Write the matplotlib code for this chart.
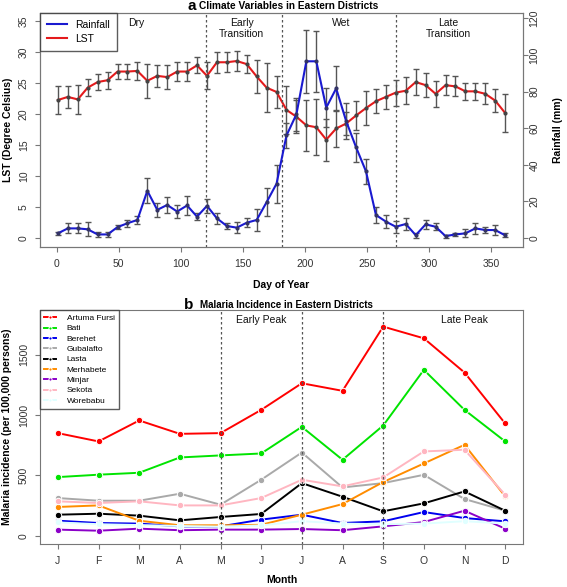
import matplotlib
matplotlib.use('Agg')
import matplotlib.pyplot as plt

plt.rcParams['font.family'] = ['Liberation Sans', 'DejaVu Sans']

# ---- panel a: climate variables (8-day composites) ----
days = list(range(1, 362, 8))
lst = [22.3, 22.8, 22.4, 24.3, 25.2, 25.5, 26.9, 26.9, 27.0, 25.4, 26.2, 26.0,
       26.9, 26.9, 27.9, 26.2, 28.4, 28.4, 28.6, 28.1, 26.1, 24.3, 23.6, 20.7,
       19.6, 18.2, 17.9, 15.9, 17.7, 18.5, 19.8, 21.0, 22.1, 22.8, 23.5, 23.8,
       25.2, 24.7, 23.3, 24.7, 24.5, 23.7, 23.7, 23.3, 22.2, 20.2]
lst_err = [2.2, 1.8, 2.4, 1.4, 1.3, 1.4, 1.2, 1.2, 1.4, 2.7, 1.8, 2.0,
           1.5, 1.6, 1.3, 2.2, 1.7, 1.6, 1.6, 1.4, 2.7, 3.9, 2.6, 3.9,
           2.7, 4.1, 4.5, 3.4, 3.0, 1.9, 2.4, 2.7, 1.9, 2.0, 2.1, 2.2,
           2.1, 1.9, 2.1, 1.6, 1.6, 1.4, 1.4, 1.7, 1.9, 3.0]
rain = [2.6, 5.3, 5.3, 4.8, 2.0, 2.0, 6.0, 8.1, 9.9, 25.8, 15.4, 18.1,
        14.5, 17.8, 11.7, 17.6, 10.8, 6.6, 5.7, 8.4, 9.9, 19.6, 29.7, 56.0,
        67.6, 96.5, 96.5, 71.2, 81.7, 63.9, 49.6, 36.4, 12.6, 9.0, 6.2, 7.7,
        1.6, 7.5, 6.2, 1.1, 2.0, 2.6, 5.3, 4.4, 4.4, 1.5]
rain_err = [1.0, 2.7, 2.7, 3.9, 1.2, 1.5, 1.0, 1.8, 2.0, 6.9, 3.8, 4.4,
            3.4, 5.0, 1.8, 3.8, 2.9, 1.8, 2.9, 2.6, 6.2, 7.5, 10.3, 6.9,
            9.0, 17.3, 16.6, 10.6, 12.2, 10.0, 8.0, 6.9, 4.6, 3.5, 3.3, 3.2,
            1.4, 2.6, 2.0, 0.8, 0.9, 2.2, 2.9, 1.8, 2.7, 1.1]
season_breaks = [120, 181, 273]
seasons = ['Dry', 'Early\nTransition', 'Wet', 'Late\nTransition']
season_x = [64, 149, 229, 315]

# ---- panel b: malaria incidence ----
months = ['J', 'F', 'M', 'A', 'M', 'J', 'J', 'A', 'S', 'O', 'N', 'D']
districts = ['Artuma Fursi', 'Bati', 'Berehet', 'Gubalafto', 'Lasta',
             'Merhabete', 'Minjar', 'Sekota', 'Worebabu']
artuma = [851, 782, 956, 845, 851, 1044, 1265, 1202, 1735, 1638, 1354, 931]
bati = [486, 506, 522, 649, 666, 682, 903, 630, 914, 1376, 1044, 782]
berehet = [124, 105, 100, 77, 77, 133, 174, 105, 119, 196, 146, 119]
gubalafto = [312, 290, 290, 348, 257, 464, 690, 400, 436, 505, 304, 207]
lasta = [174, 182, 166, 127, 155, 180, 436, 323, 202, 268, 367, 207]
merhabete = [238, 251, 124, 86, 86, 90, 174, 262, 445, 599, 754, 326]
minjar = [50, 41, 58, 45, 50, 50, 55, 45, 77, 113, 207, 58]
sekota = [285, 271, 285, 251, 251, 312, 464, 409, 483, 699, 713, 340]
worebabu = [110, 95, 88, 80, 75, 85, 120, 100, 95, 100, 120, 100]
series_b = [artuma, bati, berehet, gubalafto, lasta, merhabete, minjar, sekota, worebabu]
colors_b = ['#ff0000', '#00e400', '#0000ee', '#a9a9a9', '#000000',
            '#ff8c00', '#8b00c8', '#ffb6c1', '#e0ffff']
peak_breaks = [5, 7, 9]

spine_col = '#777777'
tick_col = '#333333'
fs = 7.5

fig = plt.figure(figsize=(5.67, 5.87), dpi=100)

# ---------- panel a ----------
ax = fig.add_axes([0.0705, 0.5797, 0.852, 0.3986])
ax.errorbar(days, lst, yerr=lst_err, fmt='none', ecolor='#555555',
            elinewidth=1, capsize=2.5, capthick=1)
ax.plot(days, lst, color='#e41a1c', lw=1.5)
ax.plot(days, lst, 'o', color='#444444', ms=2)
ax.set_xlim(-13.4, 375.4)
ax.set_ylim(-1.4, 36.4)
ax.set_xticks(range(0, 351, 50))
ax.set_yticks(range(0, 36, 5))

ax2 = ax.twinx()
ax2.errorbar(days, rain, yerr=rain_err, fmt='none', ecolor='#555555',
             elinewidth=1, capsize=2.5, capthick=1)
ax2.plot(days, rain, color='#1a1ad0', lw=1.5, label='Rainfall')
ax2.plot(days, rain, 'o', color='#333366', ms=2)
ax2.plot([], [], color='#e41a1c', lw=1.5, label='LST')
ax2.set_ylim(-4.7, 123)
ax2.set_yticks(range(0, 121, 20))

for b in season_breaks:
    ax.axvline(b, color='#555555', ls=(0, (2, 2)), lw=0.9)
for x, s in zip(season_x, seasons):
    ax.text(x, 35.6, s, ha='center', va='top', fontsize=fs, color='#111111')

leg = ax2.legend(loc='upper left', fontsize=fs, frameon=True, fancybox=False,
                 edgecolor='#333333', borderaxespad=0, handlelength=1.9,
                 handletextpad=0.8, borderpad=0.7, labelspacing=0.35)
leg.get_frame().set_linewidth(1)

for a in (ax, ax2):
    for sp in a.spines.values():
        sp.set_color(spine_col)
    a.tick_params(colors=spine_col, labelcolor=tick_col, labelsize=fs, length=3.6)
ax.tick_params(axis='x', pad=5)
ax.tick_params(axis='y', labelrotation=90, pad=4.5)
ax2.tick_params(axis='y', labelrotation=90, pad=1)
for lab in ax.get_yticklabels() + ax2.get_yticklabels():
    lab.set_va('center')

ax.set_xlabel('Day of Year', fontsize=fs, fontweight='bold')
ax.xaxis.set_label_coords(0.5, -0.142)
ax.set_ylabel('LST (Degree Celsius)', fontsize=fs, fontweight='bold')
ax.yaxis.set_label_coords(-0.056, 0.5)
ax2.set_ylabel('Rainfall (mm)', fontsize=fs, fontweight='bold', rotation=90)
ax2.yaxis.set_label_coords(1.063, 0.5)

fig.text(0.345, 0.9905, 'a', fontsize=11, fontweight='bold', ha='right', va='center')
fig.text(0.351, 0.9905, 'Climate Variables in Eastern Districts', fontsize=7.3,
         fontweight='bold', ha='left', va='center')

# ---------- panel b ----------
bx = fig.add_axes([0.0705, 0.0727, 0.852, 0.399])
xm = list(range(1, 13))
for name, vals, c in zip(districts, series_b, colors_b):
    bx.plot(xm, vals, '-o', color=c, lw=1.4, ms=4.6, mec='white', mew=0.7,
            label=name)
bx.set_xlim(0.56, 12.44)
bx.set_ylim(-72, 1872)
bx.set_xticks(xm)
bx.set_xticklabels(months)
bx.set_yticks([0, 500, 1000, 1500])
for b in peak_breaks:
    bx.axvline(b, color='#555555', ls=(0, (2, 2)), lw=0.9)
bx.text(6, 1830, 'Early Peak', ha='center', va='top', fontsize=fs, color='#111111')
bx.text(11, 1830, 'Late Peak', ha='center', va='top', fontsize=fs, color='#111111')

legb = bx.legend(loc='upper left', fontsize=6, frameon=True, fancybox=False,
                 edgecolor='#333333', borderaxespad=0, handlelength=1.4,
                 handletextpad=1.3, markerscale=0.5, labelspacing=0.3,
                 borderpad=0.5)
legb.get_frame().set_linewidth(1)

for sp in bx.spines.values():
    sp.set_color(spine_col)
bx.tick_params(colors=spine_col, labelcolor=tick_col, labelsize=fs, length=3.6)
bx.tick_params(axis='x', pad=5)
bx.tick_params(axis='y', labelrotation=90, pad=4.5)
for lab in bx.get_yticklabels():
    lab.set_va('center')
bx.set_xlabel('Month', fontsize=fs, fontweight='bold')
bx.xaxis.set_label_coords(0.5, -0.131)
bx.set_ylabel('Malaria incidence (per 100,000 persons)', fontsize=fs,
              fontweight='bold')
bx.yaxis.set_label_coords(-0.058, 0.5)

fig.text(0.341, 0.4805, 'b', fontsize=11, fontweight='bold', ha='right', va='center')
fig.text(0.353, 0.4805, 'Malaria Incidence in Eastern Districts', fontsize=7,
         fontweight='bold', ha='left', va='center')

fig.savefig('out.png', dpi=100)
